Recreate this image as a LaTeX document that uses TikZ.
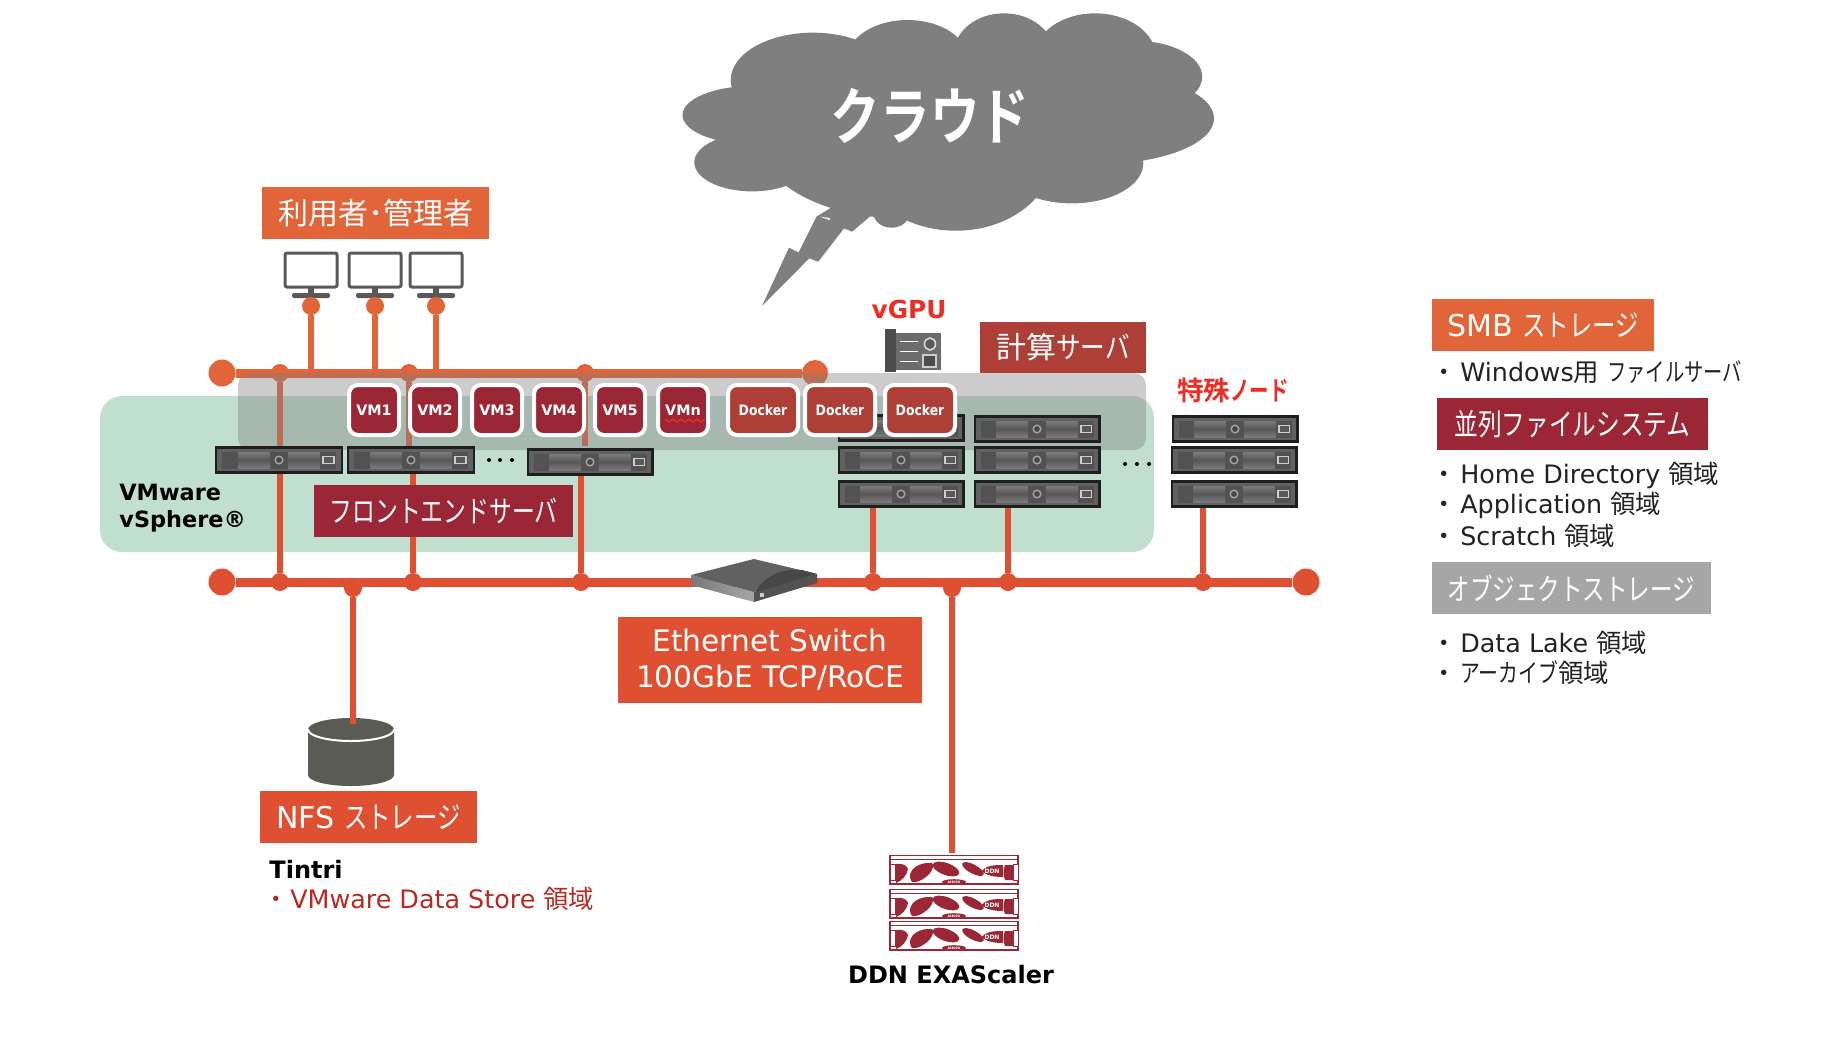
\documentclass[tikz,border=0pt]{standalone}
\usepackage{fontspec}
\usepackage{graphicx}
\setmainfont{DejaVu Sans}
\newfontfamily\cjkf{Noto Sans CJK JP}
\newfontfamily\cjkb{Noto Sans CJK JP Bold}
\newcommand{\J}[1]{{\cjkf #1}}
\newcommand{\JB}[1]{{\cjkb #1}}
\newcommand{\K}[2]{\scalebox{#1}[1]{\J{#2}}}
\newcommand{\KB}[2]{\scalebox{#1}[1]{\JB{#2}}}
\usetikzlibrary{calc}
\definecolor{org}{HTML}{E26539}
\definecolor{red2}{HTML}{DF5032}
\definecolor{wine}{HTML}{9B2635}
\definecolor{brick}{HTML}{AD3F37}
\definecolor{greenb}{HTML}{C1DFCF}
\definecolor{gmid}{HTML}{7F7F7F}
\definecolor{redt}{HTML}{EE2E24}
\definecolor{redd}{HTML}{B52A22}
\definecolor{cyl}{HTML}{5B5B55}
\definecolor{monc}{HTML}{595959}
\definecolor{txt}{HTML}{222222}
\tikzset{
 x=0.5pt,y=-0.5pt,
 lab/.style={inner sep=0pt,outer sep=0pt,text=white,align=center,font=\fontsize{15}{18}\selectfont},
 vmb/.style={draw=white,line width=2pt,rounded corners=4.5pt,fill=wine,text=white,inner sep=0pt,minimum width=25pt,minimum height=25pt,font=\bfseries\fontsize{7.2}{9}\selectfont},
 dkb/.style={vmb,fill=brick,minimum width=35pt},
 srvbox/.style={draw=black!88,line width=1.2pt,fill=black!62,inner sep=0pt,minimum height=12.4pt,minimum width=#1},
 jt/.style={circle,fill=org,inner sep=0pt,minimum size=9pt},
 jb/.style={circle,fill=red2,inner sep=0pt,minimum size=9pt},
 bust/.style={org,line width=4.5pt},
 busb/.style={red2,line width=4.5pt},
 vert/.style={org,line width=2.8pt},
 verb/.style={red2,line width=2.8pt},
 item/.style={inner sep=0pt,anchor=west,text=txt,font=\fontsize{12.7}{16}\selectfont},
 blk/.style={inner sep=0pt,anchor=west,text=black,font=\bfseries\fontsize{12}{15}\selectfont},
 mon/.style={draw=monc,line width=1.5pt,rounded corners=1pt,fill=white,minimum width=26pt,minimum height=17pt,inner sep=0pt},
}
\newcommand{\srv}[4]{% name, cx, cy, width px
 \node[srvbox=#4*0.5pt-1.2pt] (#1) at (#2,#3) {};
 \begin{scope}[shift={(#2,#3)}]
  \pgfmathsetmacro{\hw}{#4/2}
  \fill[black!68] (-\hw+7,-8.5) rectangle (\hw-7,8.5);
  \foreach \a/\b in {-0.32/-0.07,0.07/0.32}{
   \shade[top color=black!52,bottom color=black!52,middle color=black!66] ({\a*#4},-8) rectangle ({\b*#4},8);
  }
  \draw[gray!70,fill=black!72,line width=.7pt] (0,0) circle (3.8);
  \draw[gray!40,line width=.8pt,fill=black!65] ({.345*#4},-3.5) rectangle ({.43*#4},3.5);
 \end{scope}}
\newcommand{\ddn}[3]{% name, cx, cy
 \node[draw=wine,line width=.6pt,fill=white,inner sep=0pt,minimum width=64pt,minimum height=14.5pt] (#1) at (#2,#3) {};
 \begin{scope}[shift={(#2,#3)},wine]
  \draw[wine,line width=.5pt] (-64,-11) -- (64,-11) (-64,13) -- (64,13);
  \fill (-58,-6) .. controls (-50,-7) and (-47,-4) .. (-46,-1) .. controls (-47,5) and (-52,11) .. (-58,13) -- cycle;
  \fill (-42,12) .. controls (-48,4) and (-40,-7) .. (-25,-7) .. controls (-18,-8) and (-21,-1) .. (-24,3) .. controls (-28,8) and (-36,13) .. (-42,12) -- cycle;
  \fill[rotate around={-20:(-8,-1)}] (-8,-1) ellipse (14 and 6);
  \fill[rotate around={-28:(19,-1)}] (19,-1) ellipse (12 and 4.5);
  \fill (28,1) .. controls (32,-5) and (42,-5) .. (49,-5) -- (49,7) .. controls (42,7) and (32,6) .. (28,1) -- cycle;
  \fill (51,-5) -- (59,-5) -- (59,10) -- (51,10) .. controls (49,5) and (49,0) .. (51,-5) -- cycle;
  \fill (0,12) ellipse (12 and 2.8);
  \draw[wine,fill=white,line width=.3pt] (-64,-6) rectangle (-59,10) (59,-6) rectangle (64,10);
  \node[text=white,inner sep=0pt,font=\bfseries\fontsize{3}{3}\selectfont] at (38,1) {DDN};
  \node[text=white,inner sep=0pt,font=\bfseries\fontsize{1.6}{2}\selectfont] at (0,12) {AI400X};
 \end{scope}}
\begin{document}
\begin{tikzpicture}
\useasboundingbox (0,0) rectangle (1826,1050);
% cloud
\begin{scope}[shift={(670,0)},x=0.1786pt,y=-0.1667pt]
 \fill[gmid] (230,345) ellipse (195 and 87) (230,487) ellipse (162 and 87)
  (400,240) ellipse (230 and 142) (665,180) ellipse (170 and 120)
  (935,160) ellipse (140 and 120) (1190,170) ellipse (170 and 130)
  (1300,230) ellipse (190 and 108) (1200,355) ellipse (323 and 137)
  (1125,490) ellipse (200 and 120) (650,420) ellipse (400 and 235)
  (800,470) ellipse (270 and 222)
  (620,640) ellipse (50 and 43);
 \fill[gmid] (410,650) -- (360,757) -- (333,743) -- (258,917) -- (390,775) -- (415,785) -- (487,685) -- (510,695) -- (570,640) -- (500,590) -- cycle;
 \fill[white] (420,650) -- (448,654) -- (447,660) -- cycle;
\end{scope}
\node[inner sep=0pt,text=white,font=\fontsize{31}{34}\selectfont] (cloudt) at (930,116) {\KB{.8}{クラウド}};
% green area
\fill[greenb,rounded corners=11pt] (100,396) rectangle (1154,552);
% top bus
\node[circle,fill=org,inner sep=0pt,minimum size=13.5pt] (tl) at (222,373) {};
\node[circle,fill=org,inner sep=0pt,minimum size=13pt] (tr) at (815,373) {};
\draw[bust] (tl) -- (tr);
% monitors
\foreach \n/\x in {m1/311,m2/375,m3/436}{
 \node[mon] (\n) at (\x,270) {};
 \fill[monc] (\x-3,287) rectangle (\x+3,294);
 \fill[monc,rounded corners=.8pt] (\x-19,293) rectangle (\x+19,298);
 \node[jt] (c\n) at (\x,306) {};
 \coordinate (t\n) at (\x,373);
 \draw[vert] (c\n) -- (t\n);
}
% upper verticals
\foreach \n/\x in {a/280,b/409,c/585}{
 \node[jt] (u\n) at (\x,373) {};
 \coordinate (d\n) at (\x,446);
 \draw[vert] (u\n) -- (d\n);
}
% band
\fill[gmid,fill opacity=.4,rounded corners=6pt] (238,373) rectangle (1146,450);
% bottom bus
\node[circle,fill=red2,inner sep=0pt,minimum size=13.5pt] (bl) at (222,582) {};
\node[circle,fill=red2,inner sep=0pt,minimum size=13.5pt] (br) at (1306,582) {};
\draw[busb] (bl) -- (br);
% servers
\srv{s1}{279}{460}{128}
\srv{s2}{411}{460}{128}
\srv{s3}{590}{462}{127}
\srv{c11}{901}{428}{127}
\srv{c12}{901}{460}{127}
\srv{c13}{901}{494}{127}
\srv{c21}{1037}{429}{127}
\srv{c22}{1037}{460}{127}
\srv{c23}{1037}{494}{127}
\srv{c31}{1235}{429}{127}
\srv{c32}{1234}{460}{127}
\srv{c33}{1234}{494}{127}
% bottom junctions + verticals
\foreach \n/\x/\s in {j1/280/s1,j2/413/s2,j3/581/s3,j4/873/c13,j5/1008/c23,j6/1203/c33}{
 \node[jb] (\n) at (\x,582) {};
 \draw[verb] (\n) -- (\n |- \s.south);
}
\node[jb] (j7) at (353,588) {};
\node[jb] (j8) at (952,588) {};
% dots
\foreach \x in {489,500,512} \fill[black] (\x,460) circle (2);
\foreach \x in {1125,1137,1149} \fill[black] (\x,464) circle (2);
% VMs
\node[vmb] (vm1) at (374,410) {VM1};
\node[vmb] (vm2) at (435,410) {VM2};
\node[vmb] (vm3) at (497,410) {VM3};
\node[vmb] (vm4) at (559,410) {VM4};
\node[vmb] (vm5) at (620,410) {VM5};
\node[vmb] (vmn) at (683,410) {VMn};
\draw[redt,line width=.7pt] (665,419)--(669,422)--(673,419)--(677,422)--(681,419)--(685,422)--(689,419)--(693,422)--(697,419)--(701,422)--(705,419);
\node[dkb] (d1) at (763,410) {\scalebox{.86}[1]{Docker}};
\node[dkb] (d2) at (840,410) {\scalebox{.86}[1]{Docker}};
\node[dkb] (d3) at (920,410) {\scalebox{.86}[1]{Docker}};
% tag boxes
\node[lab,fill=org,minimum width=113.5pt,minimum height=26pt] (users) at (375.5,213) {\J{利用者･管理者}};
\node[lab,fill=wine,minimum width=129.5pt,minimum height=26pt] (front) at (443.5,511) {\K{.76}{フロントエンドサーバ}};
\node[lab,fill=brick,minimum width=83pt,minimum height=25.5pt] (calc) at (1063,347.5) {\J{計算}\K{.82}{サーバ}};
\node[lab,fill=red2,minimum width=152pt,minimum height=43pt,font=\fontsize{14.8}{18}\selectfont] (eth) at (770,660) {Ethernet Switch\\100GbE TCP/RoCE};
\node[lab,fill=red2,minimum width=108.5pt,minimum height=26pt] (nfs) at (368.5,817) {NFS \K{.78}{ストレージ}};
\node[lab,fill=org,minimum width=111pt,minimum height=26pt] (smb) at (1543,325) {SMB \K{.78}{ストレージ}};
\node[lab,fill=wine,minimum width=135.5pt,minimum height=26pt] (par) at (1572.5,424) {\K{.79}{並列ファイルシステム}};
\node[lab,fill=black!35,minimum width=139.5pt,minimum height=26pt] (obj) at (1571.5,588) {\K{.75}{オブジェクトストレージ}};
% switch
\node[inner sep=0pt,minimum size=1pt] (sw) at (754,582) {};
\shade[left color=gray!95!black,right color=gray!70] (691,575) -- (691,585) -- (754,602) -- (754,592) -- cycle;
\fill[black!68] (754,592) -- (817,574) -- (817,583) -- (754,602) -- cycle;
\fill[black!62] (691,575) -- (754,559) -- (817,574) -- (754,592) -- cycle;
\fill[black!72] (756,592) .. controls (762,578) and (780,568) .. (802,570) -- (817,574) -- cycle;
\fill[gray!40] (760,593) rectangle (764,597);
% connectors below
\coordinate (cyltop) at (353,724);
\coordinate (ddntop) at (952,853);
\draw[verb] (j8) -- (ddntop);
% cylinder
\node[inner sep=0pt,minimum size=1pt] (cy) at (351,750) {};
\fill[cyl] (308,729.5) arc[start angle=180,end angle=360,x radius=43,y radius=11.5] -- (394,775) arc[start angle=0,end angle=180,x radius=43,y radius=11] -- cycle;
\draw[white,line width=1pt] (308,729.5) arc[start angle=180,end angle=0,x radius=43,y radius=11.5];
\draw[verb] (j7) -- (cyltop);
% vGPU card
\node[inner sep=0pt,minimum width=28pt,minimum height=18.5pt,fill=gray!85!black] (gpu) at (913,351.5) {};
\fill[black!70] (885,329) rectangle (896,372);
\draw[white,line width=.4pt] (900,341) -- (918,341) (900,351) -- (918,351) (900,361) -- (918,361);
\draw[white!85!black,fill=black!65,line width=.8pt] (930,344) ellipse (5.5 and 6);
\draw[white!80!black,fill=black!70,line width=.8pt] (923,355) rectangle (936,367);
% DDN
\ddn{dd1}{954}{870}
\ddn{dd2}{954}{904}
\ddn{dd3}{954}{936}
% texts
\node[inner sep=0pt,text=redt,font=\bfseries\fontsize{12.4}{15}\selectfont] (vgpu) at (909,309) {vGPU};
\node[inner sep=0pt,text=redt,font=\fontsize{13.3}{15}\selectfont] (spe) at (1233,390) {\JB{特殊}\KB{.73}{ノード}};
\node[blk,align=left,font=\bfseries\fontsize{11.2}{13.4}\selectfont] (vs) at (119,508) {VMware\\vSphere®};
\node[blk] (tin) at (269,869) {Tintri};
\node[item,text=redd] (vds) at (263.5,899) {\J{・}\hspace{.5pt}VMware Data Store \J{領域}};
\node[blk,anchor=center] (exa) at (951,975) {DDN EXAScaler};
\node[item] (i1) at (1431.5,372) {\J{・}\hspace{1.5pt}Windows\J{用} \K{.76}{ファイルサーバ}};
\node[item] (i2) at (1431.5,475) {\J{・}\hspace{1.5pt}Home Directory \J{領域}};
\node[item] (i3) at (1431.5,505) {\J{・}\hspace{1.5pt}Application \J{領域}};
\node[item] (i4) at (1431.5,536) {\J{・}\hspace{1.5pt}Scratch \J{領域}};
\node[item] (i5) at (1431.5,643) {\J{・}\hspace{1.5pt}Data Lake \J{領域}};
\node[item] (i6) at (1431.5,673) {\J{・}\hspace{1.5pt}\K{.78}{アーカイブ}\J{領域}};
\end{tikzpicture}
\end{document}
